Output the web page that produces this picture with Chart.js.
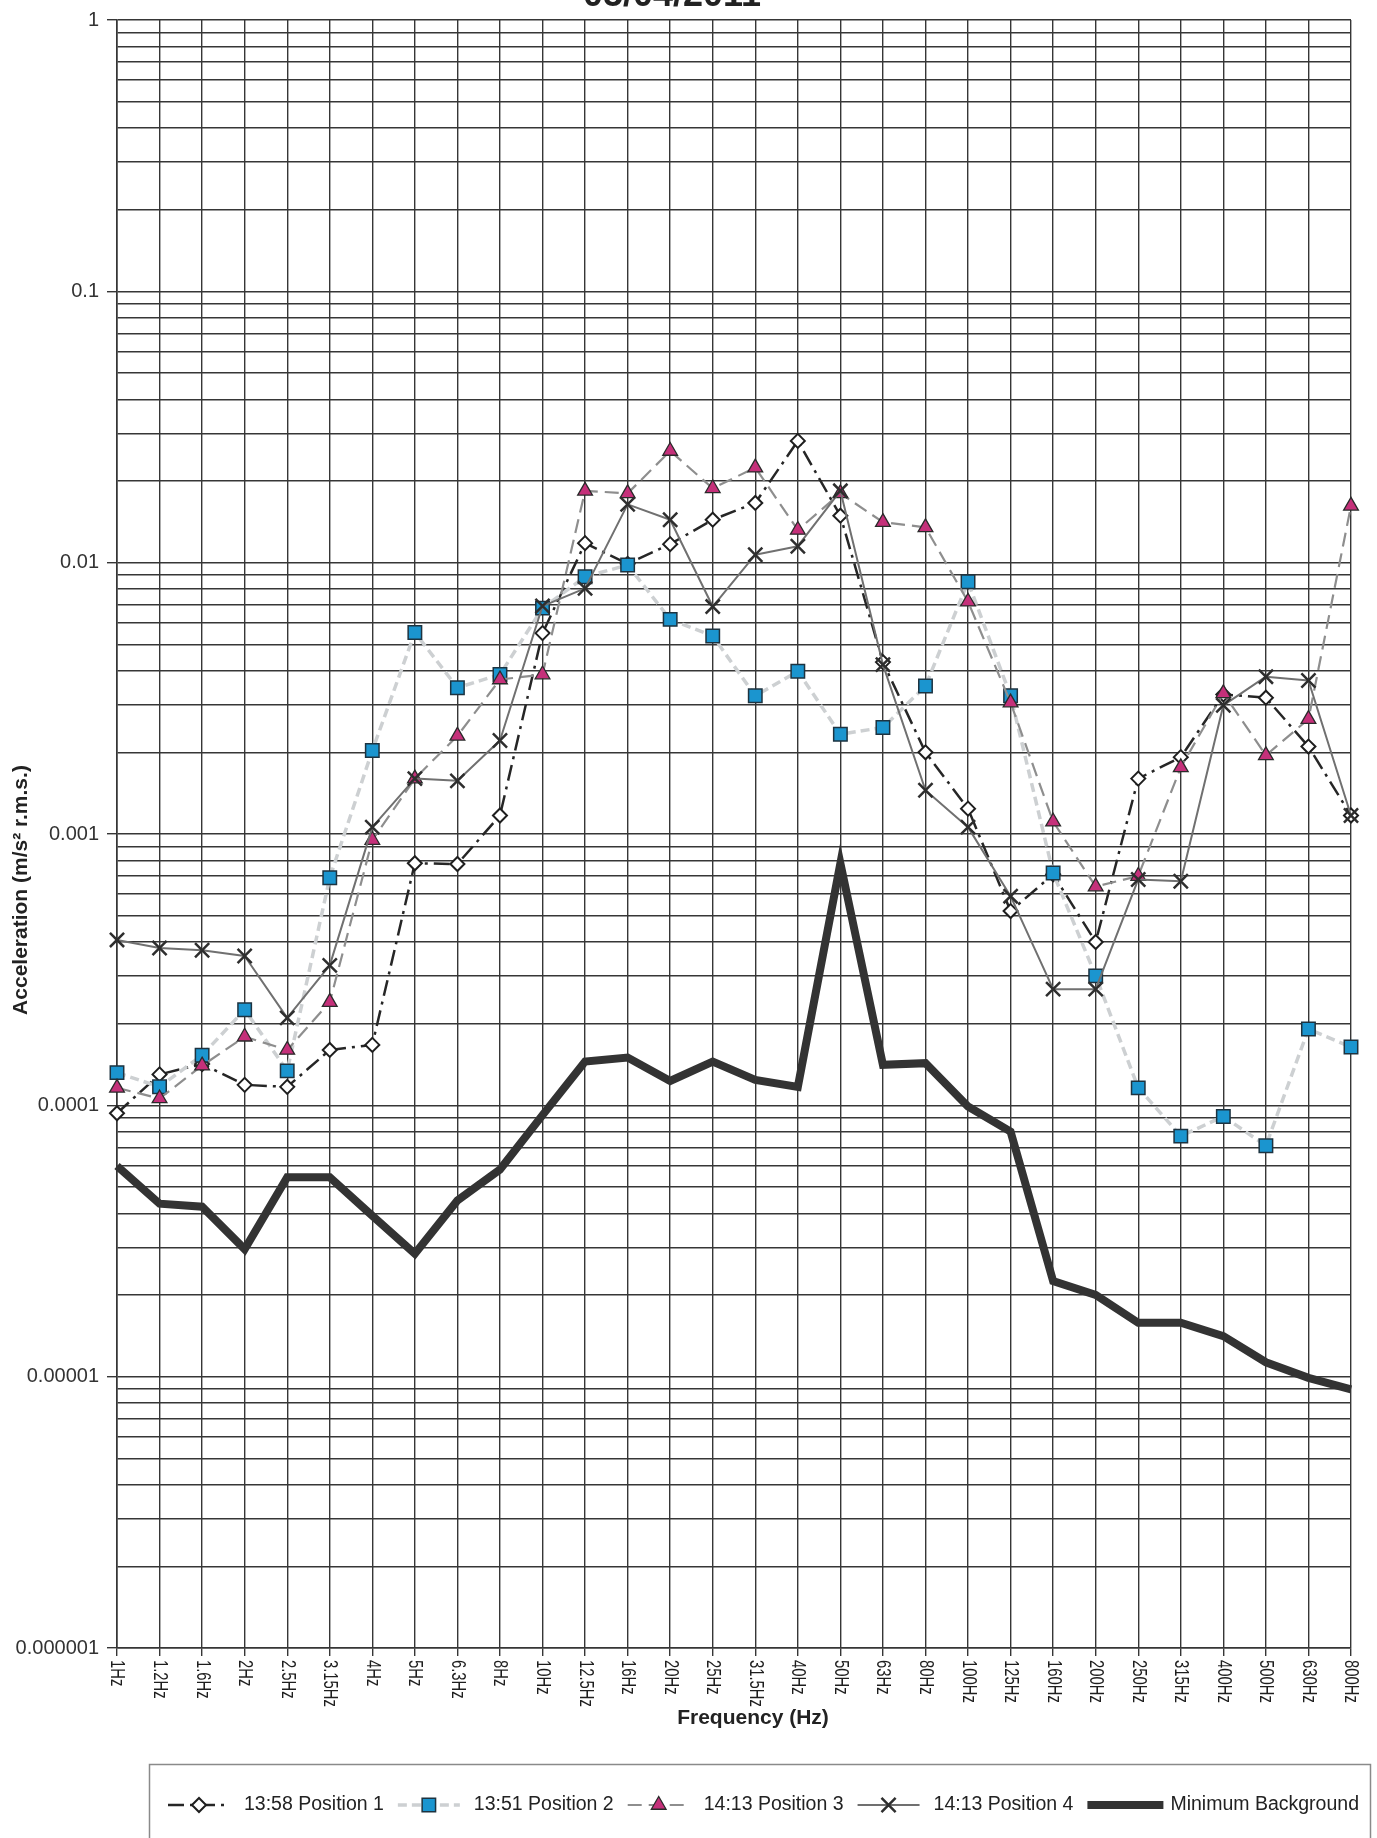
<!DOCTYPE html>
<html>
<head>
<meta charset="utf-8">
<script src="https://cdn.jsdelivr.net/npm/chart.js@4.4.0/dist/chart.umd.min.js"></script>
<style>
  html, body { margin: 0; padding: 0; background: #fff; }
  #wrap { width: 1377px; height: 1838px; overflow: hidden; }
</style>
</head>
<body>
<div id="wrap"><canvas id="myChart" width="1377" height="1838"></canvas></div>
<script>
// data (m/s2 r.m.s.)
var chartTitle = '05/04/2011';
var freqLabels = ['1Hz','1.2Hz','1.6Hz','2Hz','2.5Hz','3.15Hz','4Hz','5Hz','6.3Hz','8Hz','10Hz','12.5Hz','16Hz','20Hz','25Hz','31.5Hz','40Hz','50Hz','63Hz','80Hz','100Hz','125Hz','160Hz','200Hz','250Hz','315Hz','400Hz','500Hz','630Hz','800Hz'];

var pos1 = [0.0000935, 0.00013, 0.000142, 0.000119, 0.000117, 0.00016, 0.000167, 0.00078, 0.000775, 0.00117, 0.0055, 0.0118, 0.0099, 0.0117, 0.0144, 0.0166, 0.0281, 0.0149, 0.0043, 0.002, 0.00124, 0.00052, 0.00071, 0.0004, 0.0016, 0.00192, 0.00327, 0.00318, 0.0021, 0.00117];
var pos2 = [0.000132, 0.000117, 0.000153, 0.000225, 0.000134, 0.00069, 0.00203, 0.00553, 0.00346, 0.00387, 0.0068, 0.00887, 0.0098, 0.00618, 0.00537, 0.00323, 0.00398, 0.00233, 0.00247, 0.00351, 0.0085, 0.00323, 0.000718, 0.0003, 0.000116, 0.000077, 0.000091, 0.000071, 0.000191, 0.000164];
var pos3 = [0.000116, 0.000106, 0.00014, 0.000179, 0.00016, 0.00024, 0.00095, 0.0016, 0.0023, 0.00371, 0.00387, 0.0184, 0.018, 0.0258, 0.0188, 0.0224, 0.0132, 0.018, 0.0141, 0.0135, 0.00718, 0.00305, 0.00111, 0.00064, 0.0007, 0.00176, 0.0033, 0.00195, 0.00265, 0.0162];
var pos4 = [0.000407, 0.00038, 0.000373, 0.000355, 0.00021, 0.000328, 0.00106, 0.0016, 0.00157, 0.00221, 0.00692, 0.00804, 0.0164, 0.0144, 0.00689, 0.0107, 0.0115, 0.0184, 0.00421, 0.00145, 0.00106, 0.00059, 0.000268, 0.000268, 0.00068, 0.00067, 0.00298, 0.0038, 0.00368, 0.00117];
var minBackground = [0.0000597, 0.0000434, 0.0000423, 0.0000295, 0.0000543, 0.0000543, 0.0000392, 0.0000284, 0.0000446, 0.000058, 0.000092, 0.000145, 0.00015, 0.000123, 0.000145, 0.000124, 0.000117, 0.00078, 0.000141, 0.000143, 0.000099, 0.00008, 0.0000225, 0.00002, 0.0000158, 0.0000158, 0.0000141, 0.0000113, 0.0000099, 0.00000897];

var seriesNames = ['13:58 Position 1', '13:51 Position 2', '14:13 Position 3', '14:13 Position 4', 'Minimum Background'];
var yDecades = [0.000001, 0.00001, 0.0001, 0.001, 0.01, 0.1, 1];
var yDecadeLabels = ['0.000001', '0.00001', '0.0001', '0.001', '0.01', '0.1', '1'];

// minor grid values 1..9 per decade
var yGridValues = [];
for (var d = 0; d < yDecades.length - 1; d++) {
  for (var m = 1; m <= 9; m++) yGridValues.push(m * yDecades[d]);
}
yGridValues.push(1);

function isDecade(v) {
  var l = Math.log10(v);
  return Math.abs(l - Math.round(l)) < 1e-6;
}

var gridCol = '#363636';
var FONT = '"Liberation Sans", Arial, sans-serif';

var styles = [
  { color: '#262626', width: 2.5, dash: [16, 6, 3, 6], pointStyle: 'rectRot', radius: 7, fill: '#ffffff', pBorder: '#1e1e1e', pWidth: 2 },
  { color: '#cdd0d2', width: 3.5, dash: [9, 5], pointStyle: 'rect', radius: 9.5, fill: '#1b95cf', pBorder: '#1d3340', pWidth: 1.5 },
  { color: '#8e8e8e', width: 2.2, dash: [14, 7], pointStyle: 'triangle', radius: 8.5, fill: '#c5307a', pBorder: '#2a2a2a', pWidth: 1.3 },
  { color: '#707070', width: 2, dash: [], pointStyle: 'crossRot', radius: 10, fill: '#f4f2c8', pBorder: '#2e2e2e', pWidth: 2.5 },
  { color: '#333333', width: 8, dash: [], pointStyle: false, radius: 0, fill: '#333', pBorder: '#333', pWidth: 0 }
];
var seriesData = [pos1, pos2, pos3, pos4, minBackground];

var datasets = seriesData.map(function (arr, i) {
  var s = styles[i];
  return {
    label: seriesNames[i],
    data: arr,
    order: 5 - i,
    borderColor: s.color,
    borderWidth: s.width,
    borderDash: s.dash,
    borderJoinStyle: i === 4 ? 'miter' : 'round',
    tension: 0,
    fill: false,
    clip: false,
    pointStyle: s.pointStyle,
    pointRadius: s.radius,
    pointBackgroundColor: s.fill,
    pointBorderColor: s.pBorder,
    pointBorderWidth: s.pWidth
  };
});

function marker(ctx, s, x, y) {
  if (!s.pointStyle) return;
  ctx.save();
  ctx.fillStyle = s.fill;
  ctx.strokeStyle = s.pBorder;
  ctx.lineWidth = s.pWidth;
  ctx.setLineDash([]);
  Chart.helpers.drawPoint(ctx, { pointStyle: s.pointStyle, radius: s.radius, rotation: 0, borderWidth: s.pWidth }, x, y);
  ctx.restore();
}

var decoPlugin = {
  id: 'deco',
  afterDraw: function (chart) {
    var ctx = chart.ctx;
    var xs = chart.scales.x;
    ctx.save();

    // title (cut at the top of the page)
    ctx.fillStyle = '#222';
    ctx.font = 'bold 36px ' + FONT;
    ctx.textAlign = 'center';
    ctx.textBaseline = 'alphabetic';
    ctx.fillText(chartTitle, 672, 6);

    // category labels, rotated to read downwards
    ctx.fillStyle = '#1e1e1e';
    ctx.font = '20px ' + FONT;
    ctx.textAlign = 'left';
    ctx.textBaseline = 'middle';
    freqLabels.forEach(function (lab, i) {
      var x = xs.getPixelForTick(i);
      ctx.save();
      ctx.translate(x, xs.top + 12);
      ctx.rotate(Math.PI / 2);
      ctx.scale(0.74, 1);
      ctx.fillText(lab, 0, 0);
      ctx.restore();
    });

    // axis titles
    ctx.fillStyle = '#222';
    ctx.font = 'bold 21px ' + FONT;
    ctx.textAlign = 'center';
    ctx.fillText('Frequency (Hz)', 753, 1718);
    ctx.save();
    ctx.translate(21, 890);
    ctx.rotate(-Math.PI / 2);
    ctx.fillText('Acceleration (m/s\u00B2 r.m.s.)', 0, 0);
    ctx.restore();

    // legend
    ctx.strokeStyle = '#8a8a8a';
    ctx.lineWidth = 1.5;
    ctx.strokeRect(149.5, 1764.5, 1221, 200);
    ctx.font = '19.5px ' + FONT;
    ctx.textAlign = 'left';
    var ly = 1805;
    var lx = 168;
    styles.forEach(function (s, i) {
      var len = i === 4 ? 76 : 62;
      ctx.save();
      ctx.strokeStyle = s.color;
      ctx.lineWidth = s.width;
      ctx.setLineDash(s.dash);
      ctx.beginPath();
      ctx.moveTo(lx, ly);
      ctx.lineTo(lx + len, ly);
      ctx.stroke();
      ctx.restore();
      marker(ctx, s, lx + len / 2, ly);
      lx += len + (i === 4 ? 7 : 14);
      ctx.fillStyle = '#222';
      ctx.fillText(seriesNames[i], lx, ly);
      lx += ctx.measureText(seriesNames[i]).width + 14;
    });

    ctx.restore();
  }
};

new Chart(document.getElementById('myChart'), {
  type: 'line',
  data: { labels: freqLabels, datasets: datasets },
  options: {
    responsive: false,
    animation: false,
    devicePixelRatio: 1,
    layout: { padding: { left: 0, right: 26, top: 16, bottom: 0 } },
    plugins: { legend: { display: false }, tooltip: { enabled: false } },
    scales: {
      x: {
        offset: false,
        grid: { color: gridCol, lineWidth: 1.4, tickLength: 8, offset: false, tickColor: gridCol },
        border: { color: gridCol, width: 1.6 },
        ticks: { display: false, autoSkip: false },
        afterFit: function (s) { s.height = 190; }
      },
      y: {
        type: 'logarithmic',
        min: 0.000001,
        max: 1,
        afterBuildTicks: function (s) {
          s.ticks = yGridValues.map(function (v) { return { value: v }; });
        },
        grid: {
          color: gridCol,
          lineWidth: 1.4,
          tickLength: 10,
          tickColor: function (c) { return (c.tick && isDecade(c.tick.value)) ? gridCol : 'rgba(0,0,0,0)'; }
        },
        border: { color: gridCol, width: 1.6 },
        ticks: {
          autoSkip: false,
          padding: 8,
          color: '#333',
          font: { family: FONT, size: 20 },
          callback: function (v) {
            if (!isDecade(v)) return '';
            var k = Math.round(Math.log10(v)) + 6;
            return yDecadeLabels[k];
          }
        },
        afterFit: function (s) { s.width = 117; }
      }
    }
  },
  plugins: [decoPlugin]
});
</script>
</body>
</html>
